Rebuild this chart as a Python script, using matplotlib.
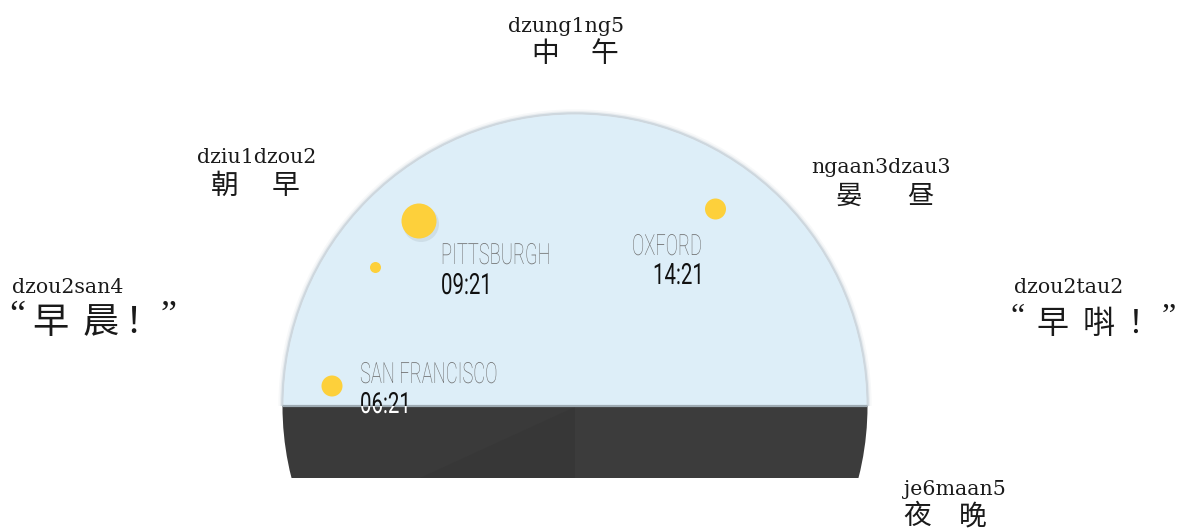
import matplotlib
matplotlib.use("Agg")
import matplotlib.pyplot as plt
from matplotlib.patches import Circle, Rectangle, Polygon
from matplotlib import patheffects
from matplotlib.transforms import Affine2D

# ---------------- data ----------------
period_roman = ["dzou2san4", "dziu1dzou2", "dzung1ng5", "ngaan3dzau3", "dzou2tau2", "je6maan5"]
period_hanzi = ["“早晨！”", "朝早", "中午", "晏昼", "“早唞！”", "夜晚"]
cities = ["SAN FRANCISCO", "PITTSBURGH", "OXFORD"]
local_times = ["06:21", "09:21", "14:21"]

# ---------------- layout (pixel coordinates) ----------------
W, H = 1179, 529
roman_xy = [(67.5, 293), (256.7, 163), (565.7, 32.5), (880.7, 173), (1069, 293), (955, 495)]
hanzi_x = [[17.5, 50, 100.5, 133.5, 169], [224.5, 286], [545.5, 604.5],
           [848.5, 920.5], [1017.5, 1052, 1099, 1135, 1169], [917, 972.5]]
hanzi_base = [333, 194, 62, 204, 333, 524]
hanzi_size = [26, 20, 20, 19, 23, 20]

dome_c, dome_r = (575, 406), 292.5
band_top, band_bot = 405.5, 478
city_name_xy = [(360, 383), (441, 264), (632, 255)]
city_time_xy = [(360, 413), (441, 294), (653, 284)]
sun_xy = [(332, 386), (419, 221), (715.5, 209)]
sun_r = [10.5, 17.5, 10.5]
dot_xy, dot_r = (375.5, 267.5), 5.5

SKY = "#ddeef8"
BAND = "#3c3c3c"
SUN = "#fdd03b"

CJK = ["Noto Sans CJK TC", "Noto Sans CJK SC", "DejaVu Sans"]
SERIF = ["DejaVu Serif", "Liberation Serif"]
QUOTE = ["Liberation Serif", "DejaVu Serif"]


class HScale(patheffects.AbstractPathEffect):
    """Horizontally condense text glyphs around their left origin."""
    def __init__(self, sx):
        super().__init__()
        self.sx = sx

    def draw_path(self, renderer, gc, tpath, affine, rgbFace=None):
        renderer.draw_path(gc, tpath, Affine2D().scale(self.sx, 1) + affine, rgbFace)


fig = plt.figure(figsize=(W / 100, H / 100), dpi=100)
ax = fig.add_axes([0, 0, 1, 1])
ax.set_xlim(0, W)
ax.set_ylim(H, 0)
ax.axis("off")

# clip shapes
dome_clip = Circle(dome_c, dome_r, transform=ax.transData)
sky_clip = Rectangle((0, 0), W, band_top, transform=ax.transData)
band_clip = Rectangle((0, band_top), W, band_bot - band_top, transform=ax.transData)

# soft rim shadow
for lw, a in [(6, 0.08), (3.5, 0.16), (1.8, 0.35)]:
    rim = Circle(dome_c, dome_r, facecolor="none", edgecolor="#9fb2bf", lw=lw, alpha=a, zorder=1)
    ax.add_patch(rim)
    rim.set_clip_path(sky_clip)

sky = Circle(dome_c, dome_r - 1, facecolor=SKY, edgecolor="none", zorder=2)
ax.add_patch(sky)
sky.set_clip_path(sky_clip)

band = Rectangle((0, band_top), W, band_bot - band_top, facecolor=BAND, edgecolor="none", zorder=2)
ax.add_patch(band)
band.set_clip_path(dome_clip)
tri = Polygon([(575, 407), (575, band_bot), (420, band_bot)], closed=True,
              facecolor="#373737", edgecolor="none", zorder=2.1)
ax.add_patch(tri)
tri.set_clip_path(dome_clip)
left_shade = Rectangle((0, band_top), 575, band_bot - band_top, facecolor="#000000",
                       alpha=0.03, edgecolor="none", zorder=2.05)
ax.add_patch(left_shade)
left_shade.set_clip_path(dome_clip)

ax.plot([282, 868], [band_top, band_top], color="#9eabb3", lw=1.6, zorder=2.5,
        clip_path=dome_clip, solid_capstyle="butt")

# suns
for (sx, sy), r in zip(sun_xy, sun_r):
    if r > 15:
        sh = Circle((sx + 2, sy + 3), r + 0.5, facecolor="#8a979f", alpha=0.18,
                    edgecolor="none", zorder=3)
        ax.add_patch(sh)
    ax.add_patch(Circle((sx, sy), r, facecolor=SUN, edgecolor="none", zorder=4))
ax.add_patch(Circle(dot_xy, dot_r, facecolor=SUN, edgecolor="none", zorder=4))

# city labels
for name, (nx, ny) in zip(cities, city_name_xy):
    ax.text(nx, ny, name, family=["Roboto", "DejaVu Sans"], weight="light", fontsize=21,
            color="#6a6a6a", ha="left", va="baseline", zorder=5,
            path_effects=[HScale(0.63)])
for t, (tx, ty) in zip(local_times, city_time_xy):
    t1 = ax.text(tx, ty, t, family=["Roboto", "DejaVu Sans"], weight="normal", fontsize=21,
                 color="#111111", ha="left", va="baseline", zorder=5, clip_on=True,
                 path_effects=[HScale(0.7)])
    t1.set_clip_path(sky_clip)
    t2 = ax.text(tx, ty, t, family=["Roboto", "DejaVu Sans"], weight="normal", fontsize=21,
                 color="#ffffff", ha="left", va="baseline", zorder=5, clip_on=True,
                 path_effects=[HScale(0.7)])
    t2.set_clip_path(band_clip)

# period labels
for rom, hz, (rx, ry), xs, base, fs in zip(period_roman, period_hanzi, roman_xy,
                                            hanzi_x, hanzi_base, hanzi_size):
    ax.text(rx, ry, rom, family=SERIF, fontsize=14.8, color="#1a1a1a",
            ha="center", va="baseline", zorder=6)
    for ch, cx in zip(hz, xs):
        if ch in "“”":
            ax.text(cx, base - 8, ch, family=QUOTE, fontsize=fs, color="#1a1a1a",
                    ha="center", va="baseline", zorder=6)
        else:
            ax.text(cx, base, ch, family=CJK, fontsize=fs, color="#1a1a1a",
                    ha="center", va="baseline", zorder=6)

fig.savefig("out.png", dpi=100, facecolor="white")
